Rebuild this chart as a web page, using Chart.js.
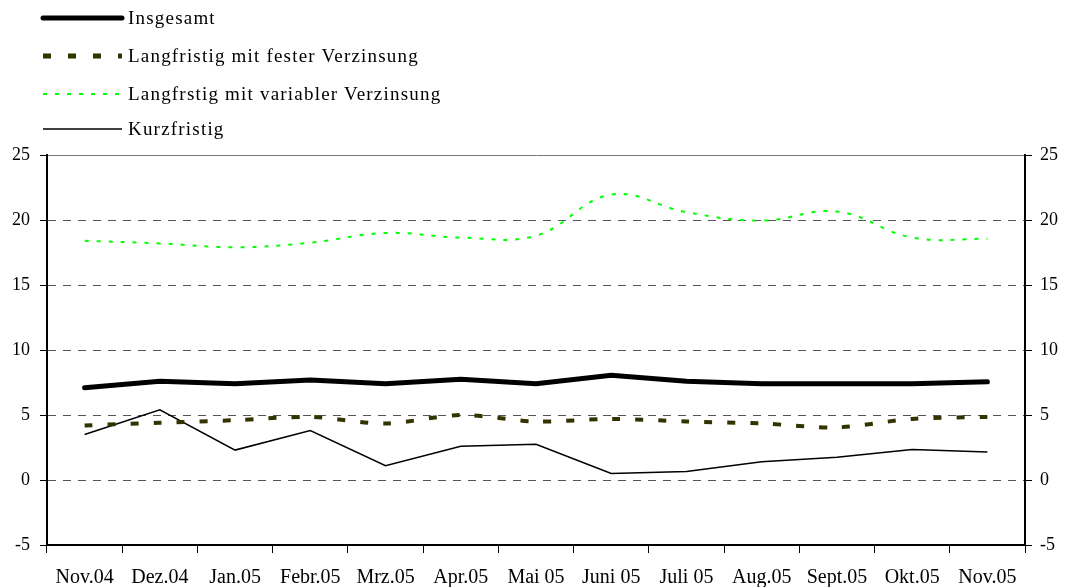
<!DOCTYPE html>
<html>
<head>
<meta charset="utf-8">
<script src="https://cdn.jsdelivr.net/npm/chart.js@4/dist/chart.umd.min.js"></script>
<style>
  body { margin: 0; background: #fff; }
  #wrap { position: relative; width: 1072px; height: 587px; }
  #legend { position: absolute; left: 0; top: 0; font-family: "Liberation Serif", serif; font-size: 19px; letter-spacing: 1.2px; color: #000; }
  .row { position: absolute; left: 40px; height: 20px; white-space: nowrap; }
  .row svg { position: absolute; left: 0; top: 0; }
  .row span { position: absolute; left: 88px; top: 0; line-height: 20px; }
</style>
</head>
<body>
<div id="wrap">
  <canvas id="chart" width="1072" height="587"></canvas>
  <div id="legend"></div>
</div>
<script>
// months on the x axis
const months = ['Nov.04', 'Dez.04', 'Jan.05', 'Febr.05', 'Mrz.05', 'Apr.05', 'Mai 05',
                'Juni 05', 'Juli 05', 'Aug.05', 'Sept.05', 'Okt.05', 'Nov.05'];

const insgesamt   = [7.1, 7.6, 7.4, 7.7, 7.4, 7.75, 7.4, 8.05, 7.6, 7.4, 7.4, 7.4, 7.55];
const festeZins   = [4.2, 4.4, 4.6, 4.85, 4.35, 5.0, 4.5, 4.7, 4.5, 4.35, 4.05, 4.7, 4.85];
const variableZins = [18.4, 18.2, 17.9, 18.25, 19.0, 18.65, 18.8, 21.95, 20.6, 19.95, 20.65, 18.65, 18.55];
const kurzfristig = [3.5, 5.4, 2.3, 3.8, 1.1, 2.6, 2.75, 0.5, 0.65, 1.4, 1.75, 2.35, 2.15];

const yTicks = [-5, 0, 5, 10, 15, 20, 25];

const serif = "'Liberation Serif', 'Times New Roman', serif";

// legend (vertical list, top left)
const legendItems = [
  { label: 'Insgesamt', color: '#000', width: 5, dash: '', top: 8 },
  { label: 'Langfristig mit fester Verzinsung', color: '#333300', width: 5, dash: '8 17', top: 46 },
  { label: 'Langfrstig mit variabler Verzinsung', color: '#00ff00', width: 2, dash: '4 8', top: 84 },
  { label: 'Kurzfristig', color: '#000', width: 1.5, dash: '', top: 119 }
];
const legendEl = document.getElementById('legend');
legendItems.forEach(it => {
  const row = document.createElement('div');
  row.className = 'row';
  row.style.top = it.top + 'px';
  row.innerHTML = `<svg width="86" height="20"><line x1="3" y1="10" x2="82" y2="10" stroke="${it.color}"
      stroke-width="${it.width}" stroke-dasharray="${it.dash}" stroke-linecap="${it.width === 5 && !it.dash ? 'round' : 'butt'}"/></svg>
      <span>${it.label}</span>`;
  legendEl.appendChild(row);
});

const tickFont = { family: serif, size: 18 };

new Chart(document.getElementById('chart'), {
  type: 'line',
  data: {
    labels: months,
    datasets: [
      { label: 'Insgesamt', data: insgesamt, borderColor: '#000', borderWidth: 5,
        borderCapStyle: 'round', tension: 0, pointRadius: 0, yAxisID: 'y' },
      { label: 'Langfristig mit fester Verzinsung', data: festeZins, borderColor: '#333300',
        borderWidth: 4, borderDash: [8, 15], tension: 0.3, pointRadius: 0, yAxisID: 'y' },
      { label: 'Langfrstig mit variabler Verzinsung', data: variableZins, borderColor: '#00ff00',
        borderWidth: 2, borderDash: [4, 8], tension: 0.4, pointRadius: 0, yAxisID: 'y' },
      { label: 'Kurzfristig', data: kurzfristig, borderColor: '#000', borderWidth: 1.5,
        tension: 0, pointRadius: 0, yAxisID: 'y' }
    ]
  },
  options: {
    responsive: false,
    animation: false,
    layout: { padding: { top: 154, left: 0, right: 0, bottom: 0 } },
    plugins: { legend: { display: false }, tooltip: { enabled: false } },
    scales: {
      x: {
        offset: true,
        grid: { offset: true, drawOnChartArea: false, drawTicks: true, tickLength: 8, tickColor: '#000' },
        border: { display: true, color: '#000', width: 2 },
        ticks: { color: '#000', font: { family: serif, size: 20 }, maxRotation: 0, autoSkip: false, padding: 13 },
        afterFit: s => { s.height = 42; }
      },
      // solid gray frame line at the top of the plot
      xTop: {
        position: 'top',
        offset: true,
        grid: { display: false, drawTicks: false },
        ticks: { display: false },
        border: { display: true, color: '#777', width: 1 },
        afterFit: s => { s.height = 1; }
      },
      y: {
        position: 'left',
        min: -5, max: 25,
        afterBuildTicks: s => { s.ticks = yTicks.map(v => ({ value: v })); },
        grid: {
          color: ctx => ctx.tick && (ctx.tick.value === -5 || ctx.tick.value === 25) ? 'rgba(0,0,0,0)' : '#555',
          tickColor: '#000', tickLength: 7, tickBorderDash: [], lineWidth: 1
        },
        border: { display: true, color: '#000', width: 2, dash: [8, 7] },
        ticks: { color: '#000', font: tickFont, padding: 10 },
        afterFit: s => { s.width = 47; }
      },
      y2: {
        position: 'right',
        min: -5, max: 25,
        afterBuildTicks: s => { s.ticks = yTicks.map(v => ({ value: v })); },
        grid: { drawOnChartArea: false, tickColor: '#000', tickLength: 7 },
        border: { display: true, color: '#000', width: 2 },
        ticks: { color: '#000', font: tickFont, padding: 8 },
        afterFit: s => { s.width = 47; }
      }
    }
  }
});
</script>
</body>
</html>
